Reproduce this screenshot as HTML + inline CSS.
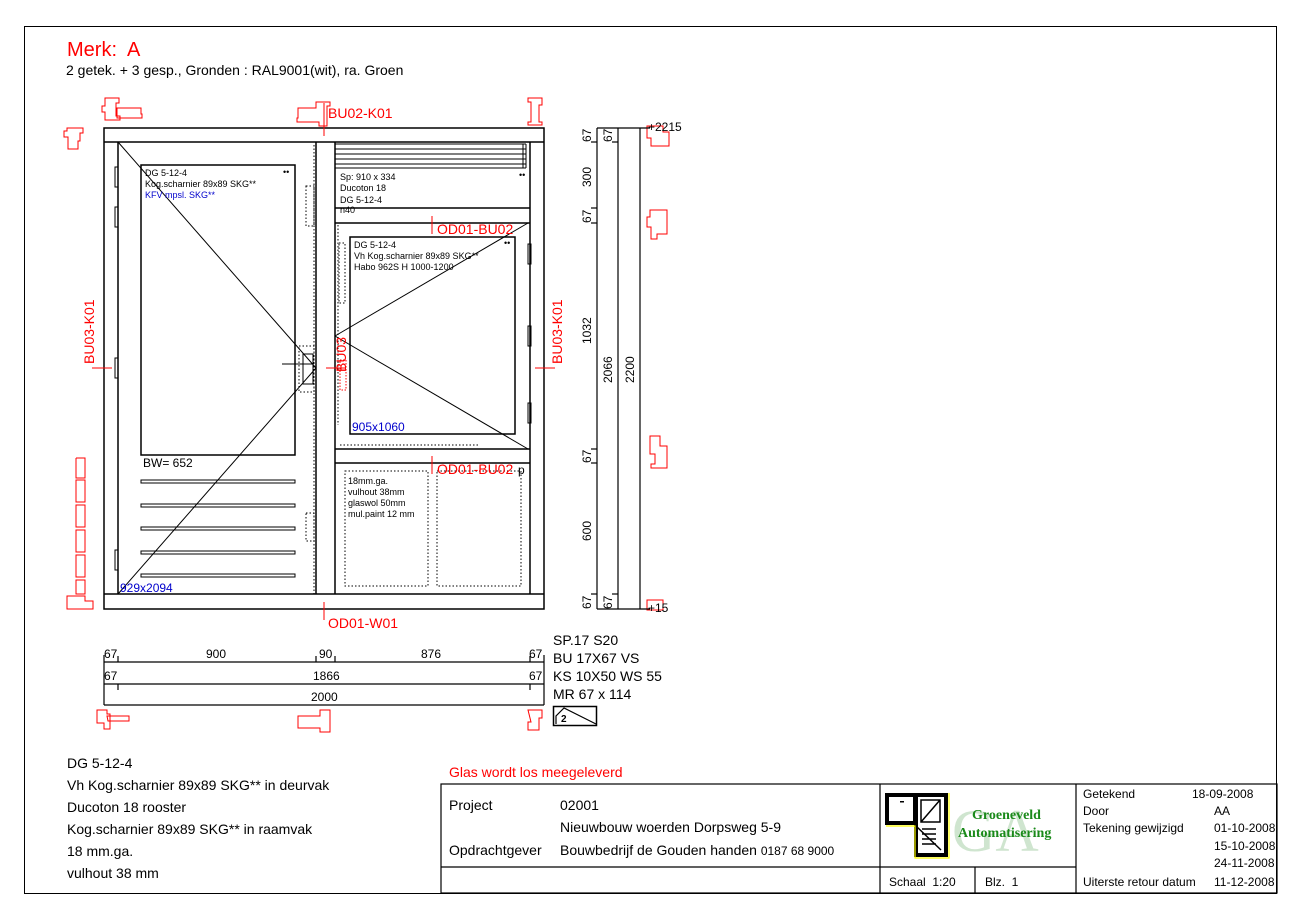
<!DOCTYPE html>
<html><head><meta charset="utf-8"><style>
html,body{margin:0;padding:0;background:#fff;}
svg{display:block;}
text{font-family:"Liberation Sans",Arial,sans-serif;}
</style></head><body>
<svg width="1297" height="918" viewBox="0 0 1297 918" xmlns="http://www.w3.org/2000/svg">
<rect x="24.5" y="26.5" width="1252" height="867" fill="none" stroke="#000" stroke-width="1"/>
<text x="67" y="56" font-size="20" fill="#f00">Merk:&#160; A</text>
<text x="66" y="75" font-size="14">2 getek. + 3 gesp., Gronden : RAL9001(wit), ra. Groen</text>

<g fill="none" stroke="#000" stroke-width="1.5">
<rect x="104" y="128" width="440" height="481"/>
<line x1="104" y1="142" x2="544" y2="142"/>
<line x1="104" y1="594" x2="544" y2="594"/>
<line x1="118" y1="142" x2="118" y2="594"/>
<line x1="316" y1="142" x2="316" y2="594"/>
<line x1="335" y1="142" x2="335" y2="594"/>
<line x1="530" y1="142" x2="530" y2="594"/>
<rect x="141" y="165" width="154" height="290"/>
<line x1="335" y1="208" x2="530" y2="208"/>
<line x1="335" y1="223" x2="530" y2="223"/>
<rect x="350" y="237" width="165" height="197"/>
<line x1="335" y1="449" x2="530" y2="449"/>
<line x1="335" y1="463" x2="530" y2="463"/>
</g>
<g fill="none" stroke="#000" stroke-width="1">
<line x1="335" y1="144" x2="526" y2="144"/><line x1="335" y1="149" x2="526" y2="149"/>
<line x1="335" y1="154" x2="526" y2="154"/><line x1="335" y1="159" x2="526" y2="159"/>
<line x1="335" y1="164" x2="526" y2="164"/><line x1="335" y1="168" x2="526" y2="168"/>
<line x1="523" y1="144" x2="523" y2="168"/><line x1="526" y1="144" x2="526" y2="168"/>
<rect x="141" y="480" width="154" height="3"/><rect x="141" y="504" width="154" height="3"/>
<rect x="141" y="527" width="154" height="3"/><rect x="141" y="551" width="154" height="3"/>
<rect x="141" y="574" width="154" height="3"/>
<line x1="118" y1="142" x2="316" y2="368"/>
<line x1="118" y1="594" x2="316" y2="368"/>
<line x1="528" y1="223" x2="335" y2="336"/>
<line x1="335" y1="336" x2="528" y2="449"/>
<rect x="303" y="354" width="10" height="30"/>
<line x1="282" y1="364" x2="313" y2="364"/>
<rect x="115" y="167" width="3" height="20"/><rect x="115" y="207" width="3" height="20"/>
<rect x="115" y="358" width="3" height="20"/><rect x="115" y="550" width="3" height="20"/>
<rect x="528" y="244" width="3" height="20"/><rect x="528" y="326" width="3" height="20"/>
<rect x="528" y="403" width="3" height="20"/>
</g>
<g fill="none" stroke="#000" stroke-width="1" stroke-dasharray="1.5,2">
<line x1="314" y1="145" x2="314" y2="594"/>
<rect x="306" y="186" width="8" height="40"/>
<rect x="299" y="346" width="15" height="46"/>
<rect x="306" y="513" width="8" height="28"/>
<line x1="338" y1="225" x2="338" y2="425"/>
<line x1="340" y1="445" x2="480" y2="445"/>
<rect x="339" y="243" width="6" height="60"/>
<rect x="345" y="471" width="83" height="115"/>
<rect x="437" y="471" width="84" height="115"/>
</g>
<g fill="none" stroke="#f00" stroke-width="1" stroke-dasharray="1.5,1.5">
<rect x="340" y="360" width="6" height="30"/>
</g>

<g font-size="9" fill="#000">
<text x="145" y="176">DG 5-12-4</text>
<text x="145" y="187">Kog.scharnier 89x89 SKG**</text>
<text x="145" y="198" fill="#00c">KFV mpsl. SKG**</text>
<text x="283" y="175">••</text>
<text x="340" y="180">Sp: 910 x 334</text>
<text x="340" y="191">Ducoton 18</text>
<text x="340" y="203">DG 5-12-4</text>
<text x="340" y="213">n40</text>
<text x="519" y="178">••</text>
<text x="354" y="248">DG 5-12-4</text>
<text x="354" y="259">Vh Kog.scharnier 89x89 SKG**</text>
<text x="354" y="270">Habo 962S H 1000-1200</text>
<text x="504" y="246">••</text>
<text x="348" y="484">18mm.ga.</text>
<text x="348" y="495">vulhout 38mm</text>
<text x="348" y="506">glaswol 50mm</text>
<text x="348" y="517">mul.paint 12 mm</text>
</g>
<text x="143" y="467" font-size="12">BW= 652</text>
<text x="120" y="592" font-size="12" fill="#00c">929x2094</text>
<text x="352" y="431" font-size="12" fill="#00c">905x1060</text>
<text x="518" y="474" font-size="12">p</text>

<g fill="#f00" font-size="14">
<text x="328" y="118">BU02-K01</text>
<text x="437" y="234">OD01-BU02</text>
<text x="437" y="474">OD01-BU02</text>
<text x="328" y="628">OD01-W01</text>
<text transform="translate(94,364) rotate(-90)">BU03-K01</text>
<text transform="translate(346,372) rotate(-90)">BU03</text>
<text transform="translate(562,364) rotate(-90)">BU03-K01</text>
</g>
<g stroke="#f00" stroke-width="1" fill="none">
<line x1="324" y1="103" x2="324" y2="136"/>
<line x1="432" y1="216" x2="432" y2="234"/>
<line x1="432" y1="456" x2="432" y2="474"/>
<line x1="324" y1="602" x2="324" y2="620"/>
<line x1="92" y1="368" x2="112" y2="368"/>
<line x1="326" y1="368" x2="346" y2="368"/>
<line x1="535" y1="368" x2="555" y2="368"/>
<path d="M105,98 h14 v5 h-3 v13 h4 v4 h-15 v-8 h-3 v-6 h3z"/>
<path d="M117,108 h24 v6 h1 v4 h-25z"/>
<path d="M298,108 h18 v-6 h14 v4 h-3 v20 h-8 v-4 h-22 v-4 h1z"/>
<path d="M528,98 h14 v7 h-3 v17 h3 v3 h-14 v-3 h3 v-20 h-3z"/>
<path d="M67,128 h16 v5 h-3 v8 h-2 v8 h-10 v-12 h-4 v-6 h3z"/>
<path d="M76,458 h9 v20 h-9 v-20 M76,480 h9 v22 h-9z M76,505 h9 v22 h-9z M76,530 h9 v22 h-9z M76,555 h9 v22 h-9z M76,580 h9 v14 h-9z"/>
<path d="M67,596 h18 v5 h8 v8 h-26z"/>
<path d="M647,126 h16 v6 h6 v14 h-18 v-8 h-4z"/>
<path d="M650,210 h17 v24 h-10 v5 h-6 v-12 h-4 v-10 h3z"/>
<path d="M650,436 h10 v10 h7 v22 h-16 v-4 h4 v-10 h-5z"/>
<path d="M647,600 h16 v10 h-16z"/>
<path d="M97,710 h10 v4 h3 v15 h-6 v-6 h-7z M107,716 h22 v5 h-21z"/>
<path d="M298,716 h22 v-6 h10 v22 h-10 v-4 h-22z"/>
<path d="M528,710 h14 v8 h-3 v12 h-11 v-8 h3z"/>
</g>

<g stroke="#000" stroke-width="1.2" fill="none">
<line x1="597" y1="128" x2="597" y2="609"/>
<line x1="618" y1="128" x2="618" y2="609"/>
<line x1="640" y1="128" x2="640" y2="609"/>
<line x1="597" y1="128" x2="650" y2="128"/>
<line x1="597" y1="609" x2="650" y2="609"/>
<line x1="591" y1="142" x2="597" y2="142"/><line x1="591" y1="208" x2="597" y2="208"/>
<line x1="591" y1="223" x2="597" y2="223"/><line x1="591" y1="449" x2="597" y2="449"/>
<line x1="591" y1="463" x2="597" y2="463"/><line x1="591" y1="594" x2="597" y2="594"/>
<line x1="612" y1="142" x2="618" y2="142"/><line x1="612" y1="594" x2="618" y2="594"/>
</g>
<g font-size="12">
<text transform="translate(591,142) rotate(-90)">67</text>
<text transform="translate(591,187) rotate(-90)">300</text>
<text transform="translate(591,223) rotate(-90)">67</text>
<text transform="translate(591,344) rotate(-90)">1032</text>
<text transform="translate(591,463) rotate(-90)">67</text>
<text transform="translate(591,541) rotate(-90)">600</text>
<text transform="translate(591,609) rotate(-90)">67</text>
<text transform="translate(612,142) rotate(-90)">67</text>
<text transform="translate(612,383) rotate(-90)">2066</text>
<text transform="translate(634,383) rotate(-90)">2200</text>
<text transform="translate(612,609) rotate(-90)">67</text>
<text x="648" y="131">+2215</text>
<text x="648" y="612">+15</text>
</g>

<g stroke="#000" stroke-width="1.2">
<line x1="104" y1="662" x2="544" y2="662"/>
<line x1="104" y1="684" x2="544" y2="684"/>
<line x1="104" y1="705" x2="544" y2="705"/>
<line x1="104" y1="655" x2="104" y2="705"/>
<line x1="544" y1="655" x2="544" y2="705"/>
<line x1="118" y1="656" x2="118" y2="662"/><line x1="316" y1="656" x2="316" y2="662"/>
<line x1="335" y1="656" x2="335" y2="662"/><line x1="530" y1="656" x2="530" y2="662"/>
<line x1="118" y1="684" x2="118" y2="690"/><line x1="530" y1="684" x2="530" y2="690"/>
</g>
<g font-size="12">
<text x="104" y="658">67</text><text x="206" y="658">900</text><text x="319" y="658">90</text>
<text x="421" y="658">876</text><text x="529" y="658">67</text>
<text x="104" y="680">67</text><text x="313" y="680">1866</text><text x="529" y="680">67</text>
<text x="311" y="701">2000</text>
</g>
<g font-size="14">
<text x="553" y="645">SP.17 S20</text>
<text x="553" y="663">BU 17X67 VS</text>
<text x="553" y="681">KS 10X50 WS 55</text>
<text x="553" y="699">MR 67 x 114</text>
</g>
<rect x="553.5" y="706.5" width="43" height="19" fill="none" stroke="#000" stroke-width="1.5"/>
<path d="M556,724 v-8 l8,-8 l32,16" fill="none" stroke="#000" stroke-width="1.2"/>
<text x="561" y="722" font-size="10" font-weight="bold">2</text>

<g font-size="14">
<text x="67" y="768">DG 5-12-4</text>
<text x="67" y="790">Vh Kog.scharnier 89x89 SKG** in deurvak</text>
<text x="67" y="812">Ducoton 18 rooster</text>
<text x="67" y="834">Kog.scharnier 89x89 SKG** in raamvak</text>
<text x="67" y="856">18 mm.ga.</text>
<text x="67" y="878">vulhout 38 mm</text>
</g>
<text x="449" y="777" font-size="14" fill="#f00">Glas wordt los meegeleverd</text>

<g stroke="#000" stroke-width="1.2" fill="none">
<rect x="441" y="784" width="836" height="109"/>
<line x1="880" y1="784" x2="880" y2="893"/>
<line x1="1076" y1="784" x2="1076" y2="893"/>
<line x1="441" y1="867" x2="1076" y2="867"/>
<line x1="975" y1="867" x2="975" y2="893"/>
</g>
<g font-size="14">
<text x="449" y="810">Project</text>
<text x="560" y="810">02001</text>
<text x="560" y="832">Nieuwbouw woerden Dorpsweg 5-9</text>
<text x="449" y="855">Opdrachtgever</text>
<text x="560" y="855">Bouwbedrijf de Gouden handen <tspan font-size="12">0187 68 9000</tspan></text>
</g>
<g font-size="12">
<text x="889" y="886">Schaal&#160; 1:20</text>
<text x="985" y="886">Blz.&#160; 1</text>
<text x="1083" y="798">Getekend</text><text x="1192" y="798">18-09-2008</text>
<text x="1083" y="815">Door</text><text x="1214" y="815">AA</text>
<text x="1083" y="832">Tekening gewijzigd</text><text x="1214" y="832">01-10-2008</text>
<text x="1214" y="850">15-10-2008</text>
<text x="1214" y="867">24-11-2008</text>
<text x="1083" y="886">Uiterste retour datum</text><text x="1214" y="886">11-12-2008</text>
</g>
<text x="952" y="851" font-size="60" style="font-family:'Liberation Serif',serif" fill="#cfe5cf">GA</text>
<g>
<rect x="885" y="793" width="32" height="32" fill="#000"/>
<rect x="889" y="797" width="24" height="24" fill="#fff"/>
<rect x="914" y="793" width="34" height="64" fill="#000"/>
<rect x="918" y="797" width="26" height="56" fill="#fff"/>
<path d="M886,826 h29 v32 h34 v-65" fill="none" stroke="#ff0" stroke-width="1.2"/>
<path d="M921,800 h19 v22 h-19z M921,822 l19,-22" fill="none" stroke="#000" stroke-width="1.5"/>
<path d="M922,829 h14 M922,834 h14 M922,839 h14 M922,844 h14 M916,826 l25,24" stroke="#000" stroke-width="1.5"/>
<rect x="900" y="801" width="4" height="1.5" fill="#000"/>
</g>
<g font-size="14" fill="#1a8a1a">
<text x="972" y="819" style="font-family:'Liberation Serif',serif;font-weight:bold">Groeneveld</text>
<text x="958" y="837" style="font-family:'Liberation Serif',serif;font-weight:bold">Automatisering</text>
</g>
</svg>
</body></html>
